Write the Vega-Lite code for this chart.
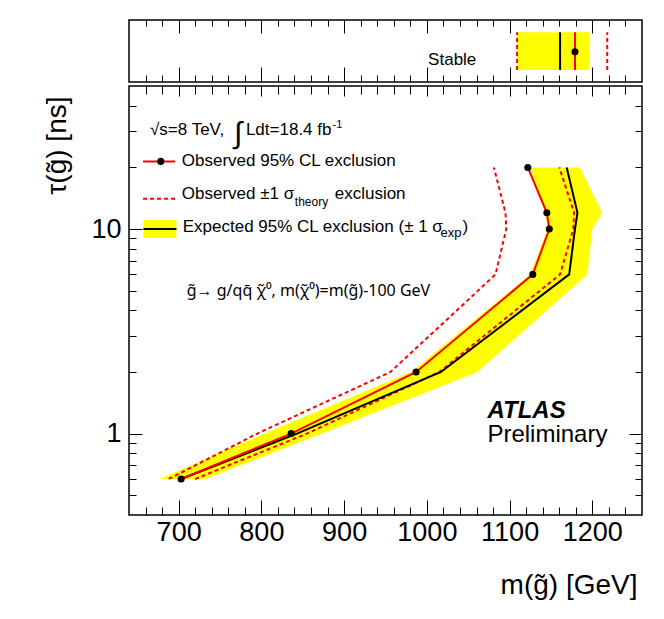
{
  "$schema": "https://vega.github.io/schema/vega-lite/v6.json",
  "padding": {"left": 42, "top": 18, "right": 10, "bottom": 5},
  "spacing": 0,
  "config": {
    "font": "Liberation Sans",
    "view": {"stroke": "#000", "strokeWidth": 1.5},
    "axis": {"domain": false, "grid": false, "tickColor": "#000", "tickWidth": 1, "labelColor": "#000", "titleColor": "#000", "labelOverlap": false, "labelFlush": false}
  },
  "datasets": {
    "band": [
      {"tau": 0.6, "lo": 677, "hi": 732},
      {"tau": 1, "lo": 804, "hi": 873},
      {"tau": 2, "lo": 981, "hi": 1061},
      {"tau": 6, "lo": 1125, "hi": 1194},
      {"tau": 10, "lo": 1146, "hi": 1200},
      {"tau": 12, "lo": 1143, "hi": 1212},
      {"tau": 20, "lo": 1125, "hi": 1185}
    ],
    "curves": [
      {"curve": "Observed", "tau": 0.6, "m": 703},
      {"curve": "Observed", "tau": 1, "m": 836},
      {"curve": "Observed", "tau": 2, "m": 987},
      {"curve": "Observed", "tau": 6, "m": 1128},
      {"curve": "Observed", "tau": 10, "m": 1148},
      {"curve": "Observed", "tau": 12, "m": 1145},
      {"curve": "Observed", "tau": 20, "m": 1122},
      {"curve": "Expected", "tau": 0.6, "m": 703},
      {"curve": "Expected", "tau": 1, "m": 843},
      {"curve": "Expected", "tau": 2, "m": 1017},
      {"curve": "Expected", "tau": 6, "m": 1172},
      {"curve": "Expected", "tau": 10, "m": 1179},
      {"curve": "Expected", "tau": 12, "m": 1182},
      {"curve": "Expected", "tau": 20, "m": 1169},
      {"curve": "TheoryUp", "tau": 0.6, "m": 720},
      {"curve": "TheoryUp", "tau": 1, "m": 855},
      {"curve": "TheoryUp", "tau": 2, "m": 1015},
      {"curve": "TheoryUp", "tau": 6, "m": 1161},
      {"curve": "TheoryUp", "tau": 10, "m": 1177},
      {"curve": "TheoryUp", "tau": 12, "m": 1178},
      {"curve": "TheoryUp", "tau": 20, "m": 1160},
      {"curve": "TheoryDown", "tau": 0.6, "m": 688},
      {"curve": "TheoryDown", "tau": 1, "m": 795},
      {"curve": "TheoryDown", "tau": 2, "m": 956},
      {"curve": "TheoryDown", "tau": 6, "m": 1083},
      {"curve": "TheoryDown", "tau": 10, "m": 1096},
      {"curve": "TheoryDown", "tau": 12, "m": 1095},
      {"curve": "TheoryDown", "tau": 20, "m": 1081}
    ],
    "stable": [
      {"curve": "Observed", "m": 1179},
      {"curve": "Expected", "m": 1161},
      {"curve": "TheoryUp", "m": 1218},
      {"curve": "TheoryDown", "m": 1109}
    ],
    "stableBand": [{"lo": 1109, "hi": 1196}],
    "one": [{}]
  },
  "vconcat": [
    {
      "width": 513,
      "height": 62,
      "layer": [
        {
          "data": {"name": "stableBand"},
          "mark": {"type": "rect", "color": "#ffff00"},
          "encoding": {
            "x": {"field": "lo", "type": "quantitative", "scale": {"domain": [640, 1260], "nice": false, "zero": false},
              "axis": {"orient": "bottom", "values": [700, 800, 900, 1000, 1100, 1200], "tickSize": -15, "labels": false, "title": null}},
            "x2": {"field": "hi"},
            "y": {"datum": 0.194, "type": "quantitative", "scale": {"domain": [0, 1], "nice": false}, "axis": null},
            "y2": {"datum": 0.802}
          }
        },
        {
          "data": {"name": "stable"},
          "transform": [{"filter": "datum.curve === 'TheoryUp' || datum.curve === 'TheoryDown'"}],
          "mark": {"type": "rule", "color": "#ff0000", "strokeWidth": 2, "strokeDash": [4, 3]},
          "encoding": {
            "x": {"field": "m", "type": "quantitative",
              "axis": {"orient": "bottom", "values": [660, 680, 720, 740, 760, 780, 820, 840, 860, 880, 920, 940, 960, 980, 1020, 1040, 1060, 1080, 1120, 1140, 1160, 1180, 1220, 1240], "tickSize": -7, "labels": false, "title": null}},
            "y": {"datum": 0.194, "type": "quantitative", "axis": null},
            "y2": {"datum": 0.802}
          }
        },
        {
          "data": {"name": "stable"},
          "transform": [{"filter": "datum.curve === 'Expected'"}],
          "mark": {"type": "rule", "color": "#000", "strokeWidth": 2},
          "encoding": {
            "x": {"field": "m", "type": "quantitative",
              "axis": {"orient": "top", "values": [700, 800, 900, 1000, 1100, 1200], "tickSize": -13, "labels": false, "title": null}},
            "y": {"datum": 0.194, "type": "quantitative", "axis": null},
            "y2": {"datum": 0.802}
          }
        },
        {
          "data": {"name": "stable"},
          "transform": [{"filter": "datum.curve === 'Observed'"}],
          "mark": {"type": "rule", "color": "#ff0000", "strokeWidth": 2},
          "encoding": {
            "x": {"field": "m", "type": "quantitative",
              "axis": {"orient": "top", "values": [660, 680, 720, 740, 760, 780, 820, 840, 860, 880, 920, 940, 960, 980, 1020, 1040, 1060, 1080, 1120, 1140, 1160, 1180, 1220, 1240], "tickSize": -6, "labels": false, "title": null}},
            "y": {"datum": 0.194, "type": "quantitative", "axis": null},
            "y2": {"datum": 0.802}
          }
        },
        {
          "data": {"name": "stable"},
          "transform": [{"filter": "datum.curve === 'Observed'"}],
          "mark": {"type": "point", "filled": true, "color": "#000", "opacity": 1, "size": 50},
          "encoding": {
            "x": {"field": "m", "type": "quantitative", "axis": null},
            "y": {"datum": 0.489, "type": "quantitative", "axis": null}
          }
        },
        {
          "data": {"name": "one"},
          "mark": {"type": "text", "text": "Stable", "fontSize": 17, "align": "left", "baseline": "alphabetic", "color": "#000"},
          "encoding": {
            "x": {"datum": 1001.5, "type": "quantitative", "axis": null},
            "y": {"datum": 0.273, "type": "quantitative", "axis": null}
          }
        }
      ],
      "resolve": {"axis": {"x": "independent", "y": "independent"}}
    },
    {
      "width": 513,
      "height": 429,
      "layer": [
        {
          "data": {"name": "band"},
          "mark": {"type": "area", "orient": "horizontal", "color": "#ffff00", "opacity": 1},
          "encoding": {
            "y": {"field": "tau", "type": "quantitative", "scale": {"type": "log", "domain": [0.4, 50], "nice": false},
              "axis": {"orient": "left", "values": [1, 10], "format": "d", "tickSize": -13, "labels": true, "labelFontSize": 27, "labelPadding": 21,
                "title": "τ(g̃) [ns]", "titleFontSize": 28, "titleFontWeight": "normal", "titleAngle": -90, "titleX": -64, "titleY": 10, "titleAlign": "right", "titleBaseline": "alphabetic"}},
            "x": {"field": "lo", "type": "quantitative", "scale": {"domain": [640, 1260], "nice": false, "zero": false},
              "axis": {"orient": "bottom", "values": [700, 800, 900, 1000, 1100, 1200], "format": "d", "tickSize": -15, "labels": true, "labelFontSize": 27, "labelPadding": 19,
                "title": "m(g̃) [GeV]", "titleFontSize": 28, "titleFontWeight": "normal", "titleX": 508, "titleY": 78, "titleAlign": "right", "titleBaseline": "alphabetic"}},
            "x2": {"field": "hi"}
          }
        },
        {
          "data": {"name": "curves"},
          "transform": [{"filter": "datum.curve === 'TheoryDown'"}],
          "mark": {"type": "line", "color": "#ff0000", "strokeWidth": 2, "strokeDash": [4, 3]},
          "encoding": {
            "x": {"field": "m", "type": "quantitative",
              "axis": {"orient": "bottom", "values": [660, 680, 720, 740, 760, 780, 820, 840, 860, 880, 920, 940, 960, 980, 1020, 1040, 1060, 1080, 1120, 1140, 1160, 1180, 1220, 1240], "tickSize": -8, "labels": false, "title": null}},
            "y": {"field": "tau", "type": "quantitative",
              "axis": {"orient": "left", "values": [0.5, 0.6, 0.7, 0.8, 0.9, 2, 3, 4, 5, 6, 7, 8, 9, 20, 30, 40], "tickSize": -7, "labels": false, "title": null}},
            "order": {"field": "tau", "type": "quantitative"}
          }
        },
        {
          "data": {"name": "curves"},
          "transform": [{"filter": "datum.curve === 'TheoryUp'"}],
          "mark": {"type": "line", "color": "#ff0000", "strokeWidth": 2, "strokeDash": [4, 3]},
          "encoding": {
            "x": {"field": "m", "type": "quantitative",
              "axis": {"orient": "top", "values": [700, 800, 900, 1000, 1100, 1200], "tickSize": -10, "labels": false, "title": null}},
            "y": {"field": "tau", "type": "quantitative",
              "axis": {"orient": "right", "values": [1, 10], "tickSize": -13, "labels": false, "title": null}},
            "order": {"field": "tau", "type": "quantitative"}
          }
        },
        {
          "data": {"name": "curves"},
          "transform": [{"filter": "datum.curve === 'Expected'"}],
          "mark": {"type": "line", "color": "#000", "strokeWidth": 2},
          "encoding": {
            "x": {"field": "m", "type": "quantitative",
              "axis": {"orient": "top", "values": [660, 680, 720, 740, 760, 780, 820, 840, 860, 880, 920, 940, 960, 980, 1020, 1040, 1060, 1080, 1120, 1140, 1160, 1180, 1220, 1240], "tickSize": -8, "labels": false, "title": null}},
            "y": {"field": "tau", "type": "quantitative",
              "axis": {"orient": "right", "values": [0.5, 0.6, 0.7, 0.8, 0.9, 2, 3, 4, 5, 6, 7, 8, 9, 20, 30, 40], "tickSize": -7, "labels": false, "title": null}},
            "order": {"field": "tau", "type": "quantitative"}
          }
        },
        {
          "data": {"name": "curves"},
          "transform": [{"filter": "datum.curve === 'Observed'"}],
          "mark": {"type": "line", "color": "#ff0000", "strokeWidth": 2},
          "encoding": {
            "x": {"field": "m", "type": "quantitative", "axis": null},
            "y": {"field": "tau", "type": "quantitative", "axis": null},
            "order": {"field": "tau", "type": "quantitative"}
          }
        },
        {
          "data": {"name": "curves"},
          "transform": [{"filter": "datum.curve === 'Observed'"}],
          "mark": {"type": "point", "filled": true, "color": "#000", "opacity": 1, "size": 50},
          "encoding": {
            "x": {"field": "m", "type": "quantitative", "axis": null},
            "y": {"field": "tau", "type": "quantitative", "axis": null}
          }
        },
        {
          "data": {"name": "one"},
          "mark": {"type": "text", "text": "√s=8 TeV,", "fontSize": 17, "align": "left", "baseline": "middle", "color": "#000"},
          "encoding": {"x": {"datum": 665.4, "type": "quantitative", "axis": null}, "y": {"datum": 30.45, "type": "quantitative", "axis": null}}
        },
        {
          "data": {"name": "one"},
          "mark": {"type": "text", "text": "∫", "fontSize": 30, "align": "center", "baseline": "middle", "color": "#000"},
          "encoding": {"x": {"datum": 772, "type": "quantitative", "axis": null}, "y": {"datum": 29.1, "type": "quantitative", "axis": null}}
        },
        {
          "data": {"name": "one"},
          "mark": {"type": "text", "text": "Ldt=18.4 fb", "fontSize": 17, "align": "left", "baseline": "middle", "color": "#000"},
          "encoding": {"x": {"datum": 781.3, "type": "quantitative", "axis": null}, "y": {"datum": 30.45, "type": "quantitative", "axis": null}}
        },
        {
          "data": {"name": "one"},
          "mark": {"type": "text", "text": "-1", "fontSize": 11, "align": "left", "baseline": "middle", "color": "#000"},
          "encoding": {"x": {"datum": 885.9, "type": "quantitative", "axis": null}, "y": {"datum": 32.2, "type": "quantitative", "axis": null}}
        },
        {
          "data": {"name": "one"},
          "mark": {"type": "rule", "color": "#ff0000", "strokeWidth": 2},
          "encoding": {"x": {"datum": 657, "type": "quantitative", "axis": null}, "x2": {"datum": 695.7}, "y": {"datum": 21.4, "type": "quantitative", "axis": null}}
        },
        {
          "data": {"name": "one"},
          "mark": {"type": "point", "filled": true, "color": "#000", "opacity": 1, "size": 50},
          "encoding": {"x": {"datum": 678.4, "type": "quantitative", "axis": null}, "y": {"datum": 21.4, "type": "quantitative", "axis": null}}
        },
        {
          "data": {"name": "one"},
          "mark": {"type": "text", "text": "Observed 95% CL exclusion", "fontSize": 17, "align": "left", "baseline": "middle", "color": "#000"},
          "encoding": {"x": {"datum": 703.8, "type": "quantitative", "axis": null}, "y": {"datum": 21.4, "type": "quantitative", "axis": null}}
        },
        {
          "data": {"name": "one"},
          "mark": {"type": "rule", "color": "#ff0000", "strokeWidth": 2, "strokeDash": [4, 3]},
          "encoding": {"x": {"datum": 657, "type": "quantitative", "axis": null}, "x2": {"datum": 695.7}, "y": {"datum": 14.06, "type": "quantitative", "axis": null}}
        },
        {
          "data": {"name": "one"},
          "mark": {"type": "text", "text": "Observed ±1 σ", "fontSize": 17, "align": "left", "baseline": "middle", "color": "#000"},
          "encoding": {"x": {"datum": 703.8, "type": "quantitative", "axis": null}, "y": {"datum": 14.88, "type": "quantitative", "axis": null}}
        },
        {
          "data": {"name": "one"},
          "mark": {"type": "text", "text": "theory", "fontSize": 12, "align": "left", "baseline": "middle", "color": "#000"},
          "encoding": {"x": {"datum": 840.4, "type": "quantitative", "axis": null}, "y": {"datum": 13.55, "type": "quantitative", "axis": null}}
        },
        {
          "data": {"name": "one"},
          "mark": {"type": "text", "text": "exclusion", "fontSize": 17, "align": "left", "baseline": "middle", "color": "#000"},
          "encoding": {"x": {"datum": 888.6, "type": "quantitative", "axis": null}, "y": {"datum": 14.88, "type": "quantitative", "axis": null}}
        },
        {
          "data": {"name": "one"},
          "mark": {"type": "rect", "color": "#ffff00"},
          "encoding": {"x": {"datum": 657.4, "type": "quantitative", "axis": null}, "x2": {"datum": 697.4}, "y": {"datum": 9.04, "type": "quantitative", "axis": null}, "y2": {"datum": 11.07}}
        },
        {
          "data": {"name": "one"},
          "mark": {"type": "rule", "color": "#000", "strokeWidth": 2},
          "encoding": {"x": {"datum": 657.4, "type": "quantitative", "axis": null}, "x2": {"datum": 697.4}, "y": {"datum": 10, "type": "quantitative", "axis": null}}
        },
        {
          "data": {"name": "one"},
          "mark": {"type": "text", "text": "Expected 95% CL exclusion (± 1 σ", "fontSize": 17, "align": "left", "baseline": "middle", "color": "#000"},
          "encoding": {"x": {"datum": 704.9, "type": "quantitative", "axis": null}, "y": {"datum": 10.2, "type": "quantitative", "axis": null}}
        },
        {
          "data": {"name": "one"},
          "mark": {"type": "text", "text": "exp", "fontSize": 13, "align": "left", "baseline": "middle", "color": "#000"},
          "encoding": {"x": {"datum": 1016.6, "type": "quantitative", "axis": null}, "y": {"datum": 9.55, "type": "quantitative", "axis": null}}
        },
        {
          "data": {"name": "one"},
          "mark": {"type": "text", "text": ")", "fontSize": 17, "align": "left", "baseline": "middle", "color": "#000"},
          "encoding": {"x": {"datum": 1043, "type": "quantitative", "axis": null}, "y": {"datum": 10.2, "type": "quantitative", "axis": null}}
        },
        {
          "data": {"name": "one"},
          "mark": {"type": "text", "text": "g̃→ g/qq̄ χ̃⁰, m(χ̃⁰)=m(g̃)-100 GeV", "font": "Noto Sans", "fontSize": 16, "align": "left", "baseline": "middle", "color": "#000"},
          "encoding": {"x": {"datum": 709.8, "type": "quantitative", "axis": null}, "y": {"datum": 4.96, "type": "quantitative", "axis": null}}
        },
        {
          "data": {"name": "one"},
          "mark": {"type": "text", "text": "ATLAS", "fontSize": 24, "fontWeight": "bold", "fontStyle": "italic", "align": "left", "baseline": "alphabetic", "color": "#000"},
          "encoding": {"x": {"datum": 1073.2, "type": "quantitative", "axis": null}, "y": {"datum": 1.193, "type": "quantitative", "axis": null}}
        },
        {
          "data": {"name": "one"},
          "mark": {"type": "text", "text": "Preliminary", "fontSize": 24, "align": "left", "baseline": "alphabetic", "color": "#000"},
          "encoding": {"x": {"datum": 1073.2, "type": "quantitative", "axis": null}, "y": {"datum": 0.906, "type": "quantitative", "axis": null}}
        }
      ],
      "resolve": {"axis": {"x": "independent", "y": "independent"}}
    }
  ]
}
